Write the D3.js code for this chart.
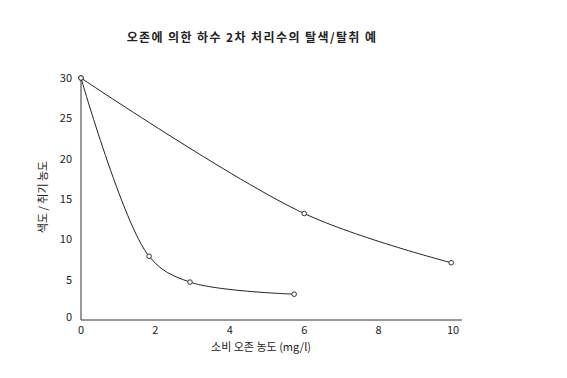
<!DOCTYPE html>
<html>
<head>
<meta charset="utf-8">
<script src="https://cdn.jsdelivr.net/npm/d3@7"></script>
<style>
  body { margin: 0; background: #fff; }
  text { font-family: "Noto Sans CJK KR", "DejaVu Sans", sans-serif; fill: #222; }
</style>
</head>
<body>
<div id="chart"></div>
<script>
// data
var ozoneA = [0, 6.0, 9.95];
var colorA = [30, 13.2, 7.1];
var ozoneB = [0, 1.83, 2.93, 5.73];
var colorB = [30, 7.9, 4.7, 3.2];
var xTicks = [0, 2, 4, 6, 8, 10];
var yTicks = [0, 5, 10, 15, 20, 25, 30];

var margin = {top: 78, right: 105, bottom: 58, left: 81},
    width = 567 - margin.left - margin.right,
    height = 378 - margin.top - margin.bottom;

var svg = d3.select("#chart")
  .append("svg")
    .attr("width", 567)
    .attr("height", 378)
  .append("g")
    .attr("transform", "translate(" + margin.left + "," + margin.top + ")");

var x = d3.scaleLinear().domain([0, 10]).range([0, 372]);
var y = d3.scaleLinear().domain([0, 30]).range([height, 0]);

// title
svg.append("text")
  .attr("x", 171)
  .attr("y", -36)
  .attr("text-anchor", "middle")
  .style("font-size", "12px")
  .style("font-weight", "bold")
  .style("letter-spacing", "1.4px")
  .text("오존에 의한 하수 2차 처리수의 탈색/탈취 예");

// axes (no tick marks, just labels)
svg.append("line")
  .attr("x1", 0).attr("x2", 381)
  .attr("y1", height).attr("y2", height)
  .attr("stroke", "#333");
svg.append("line")
  .attr("x1", 0).attr("x2", 0)
  .attr("y1", y(30)).attr("y2", height)
  .attr("stroke", "#333");

svg.selectAll(".xt")
  .data(xTicks)
  .enter().append("text")
    .attr("x", function(d) { return x(d); })
    .attr("y", height + 14)
    .attr("text-anchor", "middle")
    .style("font-size", "11px")
    .text(function(d) { return d; });

svg.selectAll(".yt")
  .data(yTicks)
  .enter().append("text")
    .attr("x", -9)
    .attr("y", function(d) { return d === 0 ? y(d) + 1 : y(d) + 4; })
    .attr("text-anchor", "end")
    .style("font-size", "11px")
    .text(function(d) { return d; });

svg.append("text")
  .attr("x", 180)
  .attr("y", height + 31)
  .attr("text-anchor", "middle")
  .style("font-size", "11px")
  .text("소비 오존 농도 (mg/l)");

svg.append("text")
  .attr("transform", "translate(-34," + 119 + ") rotate(-90)")
  .attr("text-anchor", "middle")
  .style("font-size", "11px")
  .text("색도 / 취기 농도");

var line = d3.line()
  .x(function(d) { return x(d[0]); })
  .y(function(d) { return y(d[1]); })
  .curve(d3.curveCatmullRom.alpha(0.5));

var seriesA = d3.zip(ozoneA, colorA);
var seriesB = d3.zip(ozoneB, colorB);

[seriesA, seriesB].forEach(function(s) {
  svg.append("path")
    .datum(s)
    .attr("fill", "none")
    .attr("stroke", "#222")
    .attr("stroke-width", 1)
    .attr("d", line);

  svg.selectAll(null)
    .data(s)
    .enter().append("circle")
      .attr("cx", function(d) { return x(d[0]); })
      .attr("cy", function(d) { return y(d[1]); })
      .attr("r", 2.3)
      .attr("fill", "#fff")
      .attr("stroke", "#333");
});
</script>
</body>
</html>
